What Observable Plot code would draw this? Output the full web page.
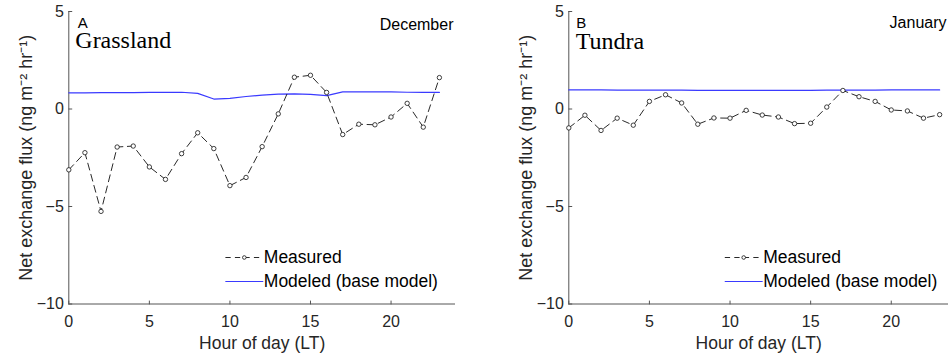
<!DOCTYPE html>
<html>
<head>
<meta charset="utf-8">
<script src="https://cdn.jsdelivr.net/npm/d3@7"></script>
<script src="https://cdn.jsdelivr.net/npm/@observablehq/plot@0.6"></script>
<style>
  body { margin: 0; background: #fff; }
  #chart { display: flex; width: 948px; height: 362px; overflow: hidden; }
</style>
</head>
<body>
<div id="chart"></div>
<script>
// ---- data ----
const hours = [0,1,2,3,4,5,6,7,8,9,10,11,12,13,14,15,16,17,18,19,20,21,22,23];

const grasslandMeasured = [-3.12,-2.24,-5.25,-1.95,-1.90,-2.97,-3.61,-2.29,-1.22,-2.03,-3.93,-3.51,
                           -1.93,-0.25,1.63,1.73,0.85,-1.31,-0.78,-0.81,-0.41,0.29,-0.93,1.61];
const grasslandModeled  = [0.83,0.83,0.84,0.84,0.84,0.85,0.85,0.86,0.80,0.51,0.54,0.64,
                           0.71,0.76,0.78,0.75,0.69,0.88,0.88,0.88,0.88,0.86,0.85,0.85];

const tundraMeasured = [-0.97,-0.32,-1.10,-0.47,-0.83,0.39,0.73,0.31,-0.78,-0.46,-0.47,-0.07,
                        -0.31,-0.41,-0.75,-0.73,0.10,0.95,0.63,0.39,-0.05,-0.10,-0.47,-0.29];
const tundraModeled  = [0.98,0.98,0.98,0.97,0.97,0.97,0.97,0.97,0.96,0.96,0.96,0.96,
                        0.96,0.96,0.96,0.96,0.97,0.97,0.97,0.97,0.98,0.98,0.98,0.98];

const xTicks = [0, 5, 10, 15, 20];
const yTicks = [-10, -5, 0, 5];
const legendLabels = ["Measured", "Modeled (base model)"];
const panelLetters = ["A", "B"];
const siteNames = ["Grassland", "Tundra"];
const monthNames = ["December", "January"];

const xLabel = "Hour of day (LT)";
const yLabel = "Net exchange flux (ng m\u207B\u00B2 hr\u207B\u00B9)";

// ---- drawing ----
const SANS = "'Liberation Sans', Arial, Helvetica, sans-serif";
const SERIF = "'Liberation Serif', 'Times New Roman', serif";
const INK = "#262626";
const AXIS = "#555";
const BLUE = "#3a3aff";

// plain straight segment shape for vectors (no arrowhead)
const segment = {draw(context, l) { context.moveTo(0, 0); context.lineTo(0, -l); }};

function panel(measured, modeled, i, opts) {
  const meas = hours.map((h, k) => ({h, v: measured[k]}));
  const mod = hours.map((h, k) => ({h, v: modeled[k]}));
  const legY = [-46.5, -22.5];
  return Plot.plot({
    width: 474,
    height: 362,
    marginLeft: opts.marginLeft,
    marginRight: opts.marginRight,
    marginTop: 11,
    marginBottom: 58.5,
    x: {domain: [0, opts.xmax]},
    y: {domain: [-10, 5]},
    style: {fontFamily: SANS, fontSize: "16px", color: INK, background: "transparent", overflow: "visible"},
    marks: [
      Plot.axisX({ticks: xTicks, tickSize: 0, tickPadding: 12, label: null, fontSize: 16, fill: INK}),
      Plot.axisY({ticks: yTicks, tickSize: 0, tickPadding: 5, label: null, fontSize: 16, fill: INK}),
      Plot.vector(xTicks, {x: d => d, frameAnchor: "bottom", length: 3, rotate: 0, anchor: "start", shape: segment, stroke: AXIS, strokeWidth: 1}),
      Plot.vector(yTicks, {y: d => d, frameAnchor: "left", length: 3, rotate: 90, anchor: "start", shape: segment, stroke: AXIS, strokeWidth: 1}),
      Plot.ruleX([0], {stroke: AXIS, strokeWidth: 1}),
      Plot.ruleY([-10], {stroke: AXIS, strokeWidth: 1}),
      Plot.text([xLabel], {frameAnchor: "bottom", dy: 39, fontSize: 17.5, fill: INK, textAnchor: "middle", lineAnchor: "middle"}),
      Plot.text([yLabel], {frameAnchor: "left", dx: -43, rotate: -90, fontSize: 18, fill: INK, textAnchor: "middle", lineAnchor: "middle"}),
      // data
      Plot.line(mod, {x: "h", y: "v", stroke: BLUE, strokeWidth: 1.2}),
      Plot.line(meas, {x: "h", y: "v", stroke: "#111", strokeWidth: 0.9, strokeDasharray: "7,4.5"}),
      Plot.dot(meas, {x: "h", y: "v", r: 2.2, stroke: "#111", fill: "white", strokeWidth: 0.8}),
      // annotations
      Plot.text([panelLetters[i]], {frameAnchor: "top-left", dx: opts.letterDx, dy: 11.5, textAnchor: "start", lineAnchor: "middle", fontSize: 15, fill: "#000"}),
      Plot.text([siteNames[i]], {frameAnchor: "top-left", dx: opts.siteDx, dy: opts.siteDy, textAnchor: "start", lineAnchor: "middle", fontSize: 24, fontFamily: SERIF, fill: "#000"}),
      Plot.text([monthNames[i]], {frameAnchor: "top-right", dx: -2, dy: opts.monthDy, textAnchor: "end", lineAnchor: "middle", fontSize: 16, fill: "#000"}),
      // legend
      Plot.vector([legendLabels[0]], {frameAnchor: "bottom-left", dx: opts.legDx, dy: legY[0], length: 37, rotate: 90, anchor: "start", shape: segment, stroke: "#111", strokeWidth: 0.9, strokeDasharray: "4.5,5"}),
      Plot.dot([legendLabels[0]], {frameAnchor: "bottom-left", dx: opts.legDx + 18.5, dy: legY[0], r: 1.8, stroke: "#111", fill: "white", strokeWidth: 0.8}),
      Plot.vector([legendLabels[1]], {frameAnchor: "bottom-left", dx: opts.legDx, dy: legY[1], length: 37, rotate: 90, anchor: "start", shape: segment, stroke: BLUE, strokeWidth: 1.2}),
      Plot.text([legendLabels[0]], {frameAnchor: "bottom-left", dx: opts.legDx + 38, dy: legY[0], textAnchor: "start", lineAnchor: "middle", fontSize: 17.5, fill: "#000"}),
      Plot.text([legendLabels[1]], {frameAnchor: "bottom-left", dx: opts.legDx + 38, dy: legY[1], textAnchor: "start", lineAnchor: "middle", fontSize: 17.5, fill: "#000"})
    ]
  });
}

const chart = document.getElementById("chart");
chart.append(panel(grasslandMeasured, grasslandModeled, 0,
  {marginLeft: 68.3, marginRight: 19, xmax: 24, letterDx: 9, siteDx: 6.5, siteDy: 28.5, monthDy: 13.5, legDx: 157}));
chart.append(panel(tundraMeasured, tundraModeled, 1,
  {marginLeft: 94.3, marginRight: 0, xmax: 23.55, letterDx: 7.5, siteDx: 7, siteDy: 30, monthDy: 11.5, legDx: 156.4}));
</script>
</body>
</html>
